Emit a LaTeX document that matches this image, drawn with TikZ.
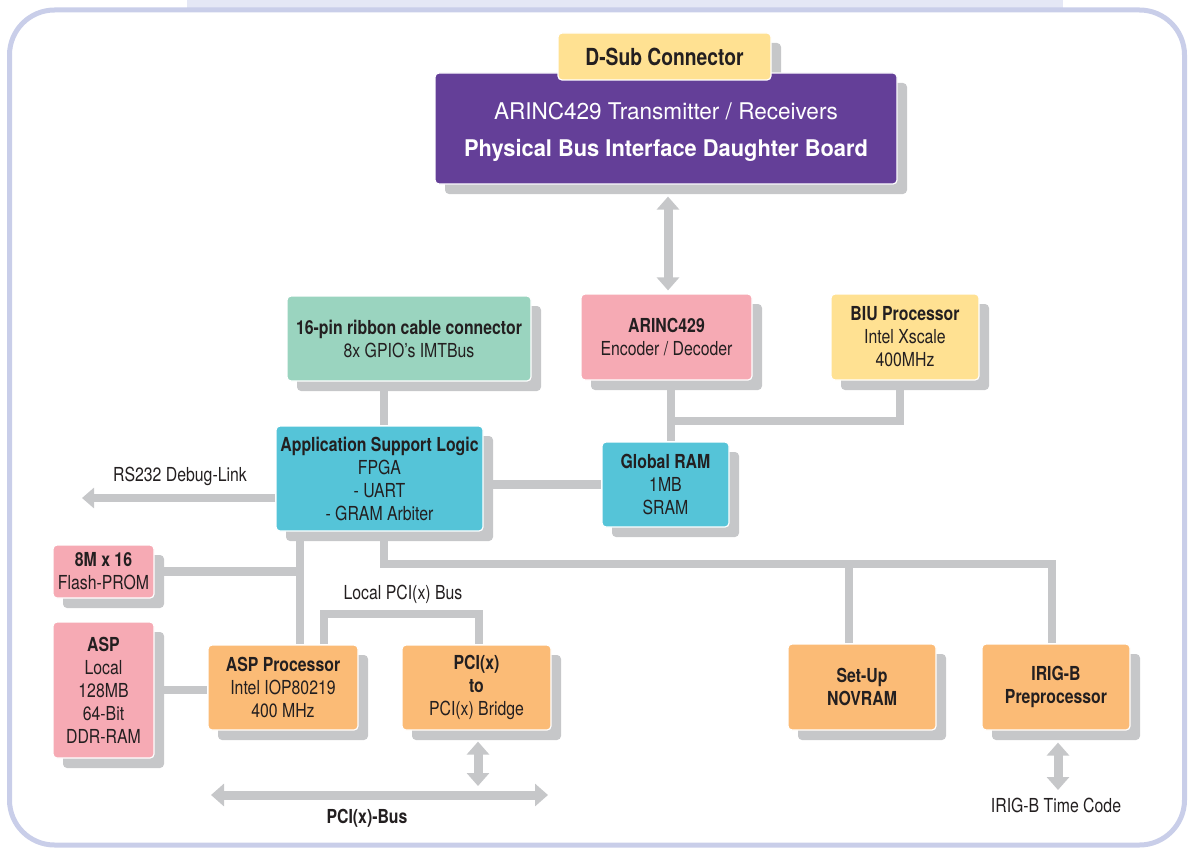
\documentclass[tikz,border=0pt]{standalone}
\usepackage{fontspec}
\setmainfont{TeX Gyre Heros}[FakeStretch=0.82]
\newfontfamily\widefont{TeX Gyre Heros}[FakeStretch=0.98]
\newfontfamily\widebold{TeX Gyre Heros}[FakeStretch=0.95]
\usetikzlibrary{arrows.meta,shadows,backgrounds}
\definecolor{frameC}{HTML}{C9CEE9}
\definecolor{barC}{HTML}{E4E7F5}
\definecolor{greyC}{HTML}{C6C7C9}
\definecolor{purpleC}{HTML}{643F98}
\definecolor{yellowC}{HTML}{FFE192}
\definecolor{pinkC}{HTML}{F6AAB4}
\definecolor{greenC}{HTML}{9AD4BF}
\definecolor{cyanC}{HTML}{55C4D8}
\definecolor{orangeC}{HTML}{FBBB76}
\definecolor{textC}{HTML}{231F20}
\tikzset{
  plainbox/.style={draw=white, line width=1.2pt, rounded corners=4pt, align=center,
    text=textC, font=\fontsize{19.3}{23}\selectfont, inner sep=0pt},
  box/.style={plainbox, drop shadow={shadow xshift=10pt, shadow yshift=-10pt, fill=greyC, opacity=1}},
  conn/.style={draw=greyC, line width=8.5pt},
  dbl/.style={draw=greyC, line width=9pt, {Triangle[width=22pt,length=13pt]}-{Triangle[width=22pt,length=13pt]}},
  sgl/.style={draw=greyC, line width=8.5pt, -{Triangle[width=20pt,length=12pt]}},
  lbl/.style={text=textC, font=\fontsize{19.3}{23}\selectfont, inner sep=0pt},
}
\begin{document}
\begin{tikzpicture}[x=1pt,y=-1pt]
\useasboundingbox (0,0) rectangle (1194,848);
% frame
\fill[barC] (187,0) rectangle (1063,10);
\draw[frameC, line width=5pt, rounded corners=45pt] (9.5,10) rectangle (1184.5,845);

% top boxes
\fill[greyC, rounded corners=4pt] (568,43) rectangle (781,90);
\node[box, fill=purpleC, text=white, minimum width=462pt, minimum height=111pt,
  font=\fontsize{23}{37}\selectfont] (phy) at (666,128.5)
  {\rule{0pt}{25pt}\widefont ARINC429 Transmitter / Receivers\\ \widebold\bfseries Physical Bus Interface Daughter Board};
\node[plainbox, fill=yellowC, minimum width=213pt, minimum height=47pt,
  font=\bfseries\fontsize{23.5}{26}\selectfont] (dsub) at (664.5,56.5) {D-Sub Connector};

% middle boxes
\node[box, fill=greenC, minimum width=244pt, minimum height=85pt] (pin) at (409,338.5)
  {\textbf{16-pin ribbon cable connector}\\8x GPIO’s IMTBus};
\node[box, fill=pinkC, minimum width=171pt, minimum height=86pt] (arinc) at (666.5,337)
  {\textbf{ARINC429}\\Encoder / Decoder};
\node[box, fill=yellowC, minimum width=148pt, minimum height=86pt] (biu) at (905,337)
  {\textbf{BIU Processor}\\Intel Xscale\\400MHz};
\node[box, fill=cyanC, minimum width=207pt, minimum height=105pt] (fpga) at (379.5,478.5)
  {\textbf{Application Support Logic}\\FPGA\\- UART\\- GRAM Arbiter};
\node[box, fill=cyanC, minimum width=127pt, minimum height=85pt] (gram) at (665.5,484.5)
  {\textbf{Global RAM}\\1MB\\SRAM};

% lower boxes
\node[box, fill=pinkC, minimum width=101pt, minimum height=53pt] (flash) at (103.5,571.5)
  {\textbf{8M x 16}\\Flash-PROM};
\node[box, fill=pinkC, minimum width=101pt, minimum height=136pt] (asp) at (103.5,690)
  {\textbf{ASP}\\Local\\128MB\\64-Bit\\DDR-RAM};
\node[box, fill=orangeC, minimum width=150pt, minimum height=85pt] (aspp) at (283,687.5)
  {\textbf{ASP Processor}\\Intel IOP80219\\400 MHz};
\node[box, fill=orangeC, minimum width=149pt, minimum height=85pt] (pcib) at (476.5,687.5)
  {\textbf{PCI(x)}\\\textbf{to}\\PCI(x) Bridge};
\node[box, fill=orangeC, minimum width=148pt, minimum height=86pt] (nov) at (862,687)
  {\textbf{Set-Up}\\\textbf{NOVRAM}};
\node[box, fill=orangeC, minimum width=148pt, minimum height=86pt] (irig) at (1056,687)
  {\textbf{IRIG-B}\\\textbf{Preprocessor}};

% labels
\node[lbl] (rsl) at (180,476) {RS232 Debug-Link};
\node[lbl] (lpl) at (403,594) {Local PCI(x) Bus};
\node[lbl, font=\bfseries\fontsize{19.3}{23}\selectfont] (pbl) at (367,818) {PCI(x)-Bus};
\node[lbl] (irl) at (1056,805) {IRIG-B Time Code};

% helper coordinates
\coordinate (xA) at (384,0);
\coordinate (xB) at (671,0);
\coordinate (xC) at (900,0);
\coordinate (xD) at (300,0);
\coordinate (xE) at (1052,0);
\coordinate (xF) at (849,0);
\coordinate (xG) at (324,0);
\coordinate (xH) at (479,0);
\coordinate (xP) at (668,0);
\coordinate (xI) at (478,0);
\coordinate (xJ) at (1058,0);
\coordinate (yB) at (0,421);
\coordinate (yBus) at (0,564);
\coordinate (yL) at (0,614);
\coordinate (rs) at (82,498);
\coordinate (pl) at (211,795);
\coordinate (pr) at (548,795);
\coordinate (pt) at (478,786);
\coordinate (it) at (1058,790);

\begin{scope}[on background layer]
  \draw[conn] (pin.south -| xA) -- (fpga.north -| xA);
  \draw[conn] (arinc.south -| xB) -- (gram.north -| xB);
  \draw[conn] (xB |- yB) -| (biu.south -| xC);
  \draw[conn] (fpga.east |- gram.west) -- (gram.west);
  \draw[sgl] (fpga.west |- rs) -- (rs);
  \draw[conn] (fpga.south -| xD) -- (aspp.north -| xD);
  \draw[conn] (flash.east) -- (flash.east -| xD);
  \draw[conn] (fpga.south -| xA) -- (xA |- yBus) -- (xE |- yBus) -- (irig.north -| xE);
  \draw[conn] (xF |- yBus) -- (nov.north -| xF);
  \draw[conn] (asp.east) -- (asp.east -| aspp.west);
  \draw[conn] (aspp.north -| xG) |- (xH |- yL) -- (pcib.north -| xH);
\end{scope}
\draw[dbl] ([yshift=-12pt]phy.south -| xP) -- ([yshift=3pt]arinc.north -| xP);
\draw[dbl] ([yshift=-11pt]pcib.south -| xI) -- (pt);
\draw[dbl] (pl) -- (pr);
\draw[dbl] ([yshift=-12pt]irig.south -| xJ) -- (it);
\end{tikzpicture}
\end{document}
